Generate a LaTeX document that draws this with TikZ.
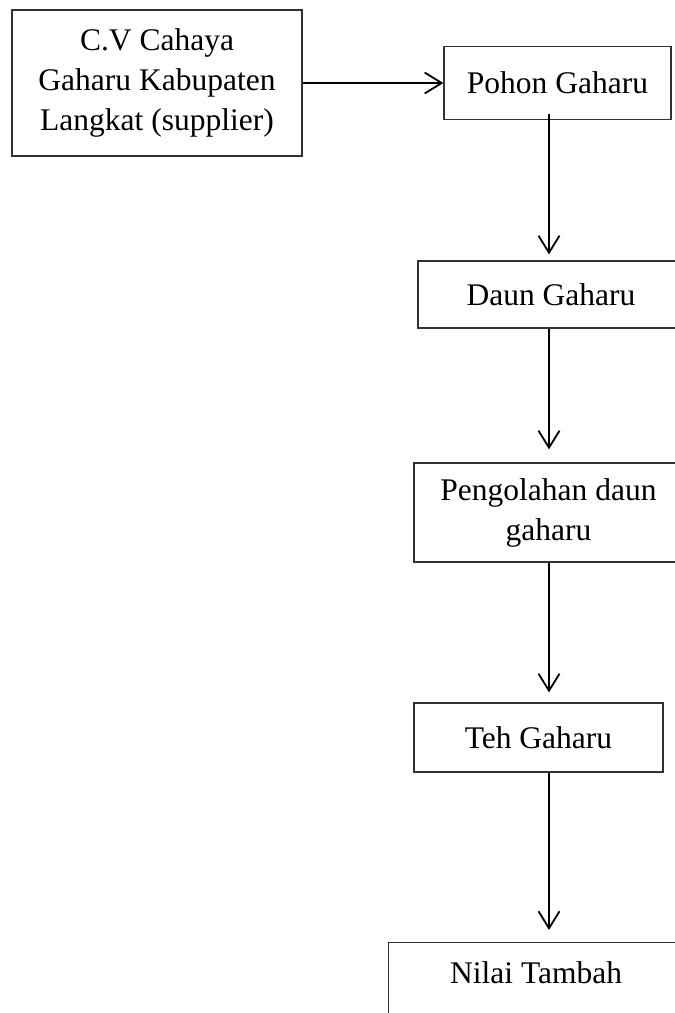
\documentclass[tikz,border=0pt]{standalone}
\usepackage{fontspec}
\setmainfont{Liberation Serif}
\usetikzlibrary{arrows.meta}
\tikzset{
  flownode/.style = {align=center, inner sep=0pt, text centered, font=\fontsize{31.5}{40}\selectfont},
  fnode/.style = {flownode, rectangle, draw=black!80, line width=1.2pt},
  farrow/.style = {draw=black, line width=1.8pt, -{Straight Barb[length=17pt,width=21pt]}},
}

\begin{document}
\begin{tikzpicture}[x=1pt, y=-1pt]
\useasboundingbox (0,0) rectangle (675,1013);
\clip (0,0) rectangle (675,1013);
\node [fnode, minimum width=290pt, minimum height=146pt] (supplier) at (157,83) {C.V Cahaya\\Gaharu Kabupaten\\Langkat (supplier)};
\node [fnode, minimum width=227pt, minimum height=73pt] (pohon) at (557.5,83) {Pohon Gaharu};
\node [fnode, minimum width=266pt, minimum height=67pt] (daun) at (551,294.5) {Daun Gaharu};
\node [fnode, minimum width=269pt, minimum height=99pt] (olah) at (548.5,512.5) {Pengolahan daun\\gaharu};
\node [fnode, minimum width=249pt, minimum height=69pt] (teh) at (538.5,737.5) {Teh Gaharu};
\node [fnode, minimum width=295pt, minimum height=99pt, anchor=north west] (tambah) at (388,942) {Nilai Tambah\\~};

\coordinate (spine) at (549,0);
\draw [farrow] (supplier.east) -- (pohon.west);
\draw [farrow, shorten <=-6pt, shorten >=6pt] (pohon.south -| spine) -- (daun.north -| spine);
\draw [farrow, shorten >=13pt] (daun.south -| spine) -- (olah.north -| spine);
\draw [farrow, shorten >=10pt] (olah.south -| spine) -- (teh.north -| spine);
\draw [farrow, shorten >=12pt] (teh.south -| spine) -- (tambah.north -| spine);
\end{tikzpicture}
\end{document}
